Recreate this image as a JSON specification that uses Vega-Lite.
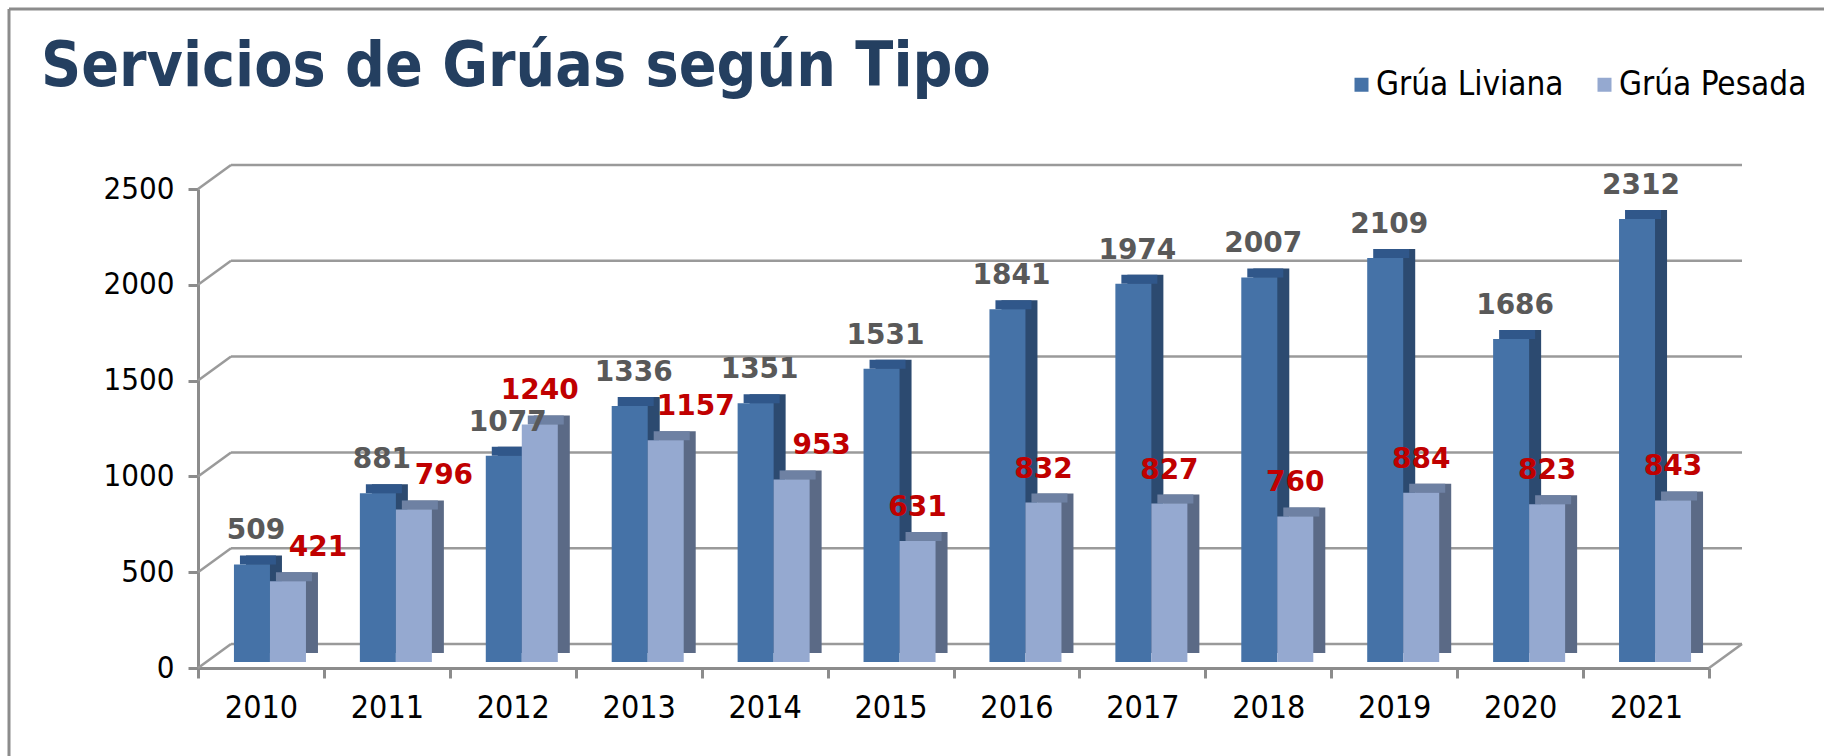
{
  "$schema": "https://vega.github.io/schema/vega-lite/v6.json",
  "width": 1815,
  "height": 747,
  "autosize": {"type": "none"},
  "padding": {"left": 9, "top": 9, "right": 0, "bottom": 0},
  "background": "white",
  "config": {"view": {"stroke": null}},
  "title": {"text": "Servicios de Grúas según Tipo", "anchor": "start", "frame": "group", "orient": "top", "offset": 0, "dx": 32, "dy": 140, "baseline": "alphabetic", "font": "DejaVu Sans Condensed", "fontSize": 62, "fontWeight": "bold", "color": "#243F60"},
  "datasets": {
    "main": [
      {"year": "2010", "tipo": "Grúa Liviana", "value": 509}, {"year": "2010", "tipo": "Grúa Pesada", "value": 421},
      {"year": "2011", "tipo": "Grúa Liviana", "value": 881}, {"year": "2011", "tipo": "Grúa Pesada", "value": 796},
      {"year": "2012", "tipo": "Grúa Liviana", "value": 1077}, {"year": "2012", "tipo": "Grúa Pesada", "value": 1240},
      {"year": "2013", "tipo": "Grúa Liviana", "value": 1336}, {"year": "2013", "tipo": "Grúa Pesada", "value": 1157},
      {"year": "2014", "tipo": "Grúa Liviana", "value": 1351}, {"year": "2014", "tipo": "Grúa Pesada", "value": 953},
      {"year": "2015", "tipo": "Grúa Liviana", "value": 1531}, {"year": "2015", "tipo": "Grúa Pesada", "value": 631},
      {"year": "2016", "tipo": "Grúa Liviana", "value": 1841}, {"year": "2016", "tipo": "Grúa Pesada", "value": 832},
      {"year": "2017", "tipo": "Grúa Liviana", "value": 1974}, {"year": "2017", "tipo": "Grúa Pesada", "value": 827},
      {"year": "2018", "tipo": "Grúa Liviana", "value": 2007}, {"year": "2018", "tipo": "Grúa Pesada", "value": 760},
      {"year": "2019", "tipo": "Grúa Liviana", "value": 2109}, {"year": "2019", "tipo": "Grúa Pesada", "value": 884},
      {"year": "2020", "tipo": "Grúa Liviana", "value": 1686}, {"year": "2020", "tipo": "Grúa Pesada", "value": 823},
      {"year": "2021", "tipo": "Grúa Liviana", "value": 2312}, {"year": "2021", "tipo": "Grúa Pesada", "value": 843}
    ],
    "grid": [{"v": 0}, {"v": 500}, {"v": 1000}, {"v": 1500}, {"v": 2000}, {"v": 2500}]
  },
  "resolve": {"scale": {"x": "independent"}, "axis": {"x": "independent"}},
  "layer": [
    {
      "data": {"name": "grid"},
      "mark": {"type": "rule", "color": "#9a9a9a", "strokeWidth": 2.5, "xOffset": 33, "x2Offset": 33, "yOffset": -24},
      "encoding": {
        "x": {"datum": 0, "type": "quantitative", "scale": {"domain": [0, 1], "range": [189, 1700]}, "axis": null},
        "x2": {"datum": 1},
        "y": {"field": "v", "type": "quantitative", "scale": {"domain": [0, 2500], "range": [659, 180], "nice": false},
          "axis": {"orient": "left", "offset": -189, "values": [0, 500, 1000, 1500, 2000, 2500], "format": "d", "title": null, "grid": false, "domainColor": "#8c8c8c", "domainWidth": 3, "tickColor": "#8c8c8c", "tickWidth": 3, "tickSize": 10, "labelFont": "DejaVu Sans Condensed", "labelFontSize": 31, "labelColor": "#000000", "labelPadding": 14}}
      }
    },
    {
      "data": {"name": "grid"},
      "mark": {"type": "rule", "color": "#9a9a9a", "strokeWidth": 2.5, "x2Offset": 33, "y2Offset": -24},
      "encoding": {
        "x": {"datum": 0, "type": "quantitative", "scale": {"domain": [0, 1], "range": [189, 1700]}, "axis": null},
        "x2": {"datum": 0},
        "y": {"field": "v", "type": "quantitative", "scale": {"domain": [0, 2500], "range": [659, 180], "nice": false}},
        "y2": {"field": "v"}
      }
    },
    {
      "data": {"values": [{}]},
      "mark": {"type": "rule", "color": "#9a9a9a", "strokeWidth": 2.5, "x2Offset": 33, "y2Offset": -24},
      "encoding": {
        "x": {"datum": 1, "type": "quantitative", "scale": {"domain": [0, 1], "range": [189, 1700]}, "axis": null},
        "x2": {"datum": 1},
        "y": {"datum": 0, "type": "quantitative", "scale": {"domain": [0, 2500], "range": [659, 180], "nice": false}},
        "y2": {"datum": 0}
      }
    },
    {
      "data": {"name": "main"},
      "transform": [{"filter": "datum.tipo === 'Grúa Liviana'"}],
      "mark": {"type": "bar", "color": "#2c4a70", "width": {"band": 0.286}, "xOffset": 3, "x2Offset": 3, "yOffset": -15, "y2Offset": -15},
      "encoding": {
        "x": {"field": "year", "type": "nominal", "scale": {"domain": ["2010", "2011", "2012", "2013", "2014", "2015", "2016", "2017", "2018", "2019", "2020", "2021"], "range": [189, 1700], "paddingInner": 0, "paddingOuter": 0}, "axis": null},
        "y": {"field": "value", "type": "quantitative", "scale": {"domain": [0, 2500], "range": [659, 180], "nice": false}}
      }
    },
    {
      "data": {"name": "main"},
      "transform": [{"filter": "datum.tipo === 'Grúa Liviana'"}],
      "mark": {"type": "bar", "color": "#30578a", "width": {"band": 0.286}, "xOffset": -3, "x2Offset": -3, "yOffset": -15, "y2Offset": -6},
      "encoding": {
        "x": {"field": "year", "type": "nominal", "scale": {"domain": ["2010", "2011", "2012", "2013", "2014", "2015", "2016", "2017", "2018", "2019", "2020", "2021"], "range": [189, 1700], "paddingInner": 0, "paddingOuter": 0}, "axis": null},
        "y": {"field": "value", "type": "quantitative", "scale": {"domain": [0, 2500], "range": [659, 180], "nice": false}},
        "y2": {"field": "value"}
      }
    },
    {
      "data": {"name": "main"},
      "transform": [{"filter": "datum.tipo === 'Grúa Liviana'"}],
      "mark": {"type": "bar", "width": {"band": 0.286}, "xOffset": -9, "x2Offset": -9, "yOffset": -6, "y2Offset": -6},
      "encoding": {
        "x": {"field": "year", "type": "nominal", "scale": {"domain": ["2010", "2011", "2012", "2013", "2014", "2015", "2016", "2017", "2018", "2019", "2020", "2021"], "range": [189, 1700], "paddingInner": 0, "paddingOuter": 0},
          "axis": {"orient": "bottom", "offset": -88, "title": null, "labelAngle": 0, "tickBand": "extent", "tickSize": 10, "tickWidth": 3, "tickColor": "#8c8c8c", "domainColor": "#8c8c8c", "domainWidth": 3, "labelFont": "DejaVu Sans Condensed", "labelFontSize": 32, "labelColor": "#000000", "labelPadding": 14}},
        "y": {"field": "value", "type": "quantitative", "scale": {"domain": [0, 2500], "range": [659, 180], "nice": false}},
        "color": {"field": "tipo", "type": "nominal", "scale": {"domain": ["Grúa Liviana", "Grúa Pesada"], "range": ["#4572a7", "#95a9d0"]},
          "legend": {"orient": "none", "legendX": 1336, "legendY": 59, "direction": "horizontal", "title": null, "symbolType": "square", "symbolSize": 196, "symbolStrokeWidth": 0, "symbolOpacity": 1, "labelFont": "DejaVu Sans Condensed", "labelFontSize": 33, "labelColor": "#000000", "labelOffset": -2, "labelLimit": 0, "columnPadding": 24, "padding": 0}}
      }
    },
    {
      "data": {"name": "main"},
      "transform": [{"filter": "datum.tipo === 'Grúa Pesada'"}],
      "mark": {"type": "bar", "color": "#5b6a86", "width": {"band": 0.286}, "xOffset": 39, "x2Offset": 39, "yOffset": -15, "y2Offset": -15},
      "encoding": {
        "x": {"field": "year", "type": "nominal", "scale": {"domain": ["2010", "2011", "2012", "2013", "2014", "2015", "2016", "2017", "2018", "2019", "2020", "2021"], "range": [189, 1700], "paddingInner": 0, "paddingOuter": 0}, "axis": null},
        "y": {"field": "value", "type": "quantitative", "scale": {"domain": [0, 2500], "range": [659, 180], "nice": false}}
      }
    },
    {
      "data": {"name": "main"},
      "transform": [{"filter": "datum.tipo === 'Grúa Pesada'"}],
      "mark": {"type": "bar", "color": "#6e81a3", "width": {"band": 0.286}, "xOffset": 33, "x2Offset": 33, "yOffset": -15, "y2Offset": -6},
      "encoding": {
        "x": {"field": "year", "type": "nominal", "scale": {"domain": ["2010", "2011", "2012", "2013", "2014", "2015", "2016", "2017", "2018", "2019", "2020", "2021"], "range": [189, 1700], "paddingInner": 0, "paddingOuter": 0}, "axis": null},
        "y": {"field": "value", "type": "quantitative", "scale": {"domain": [0, 2500], "range": [659, 180], "nice": false}},
        "y2": {"field": "value"}
      }
    },
    {
      "data": {"name": "main"},
      "transform": [{"filter": "datum.tipo === 'Grúa Pesada'"}],
      "mark": {"type": "bar", "width": {"band": 0.286}, "xOffset": 27, "x2Offset": 27, "yOffset": -6, "y2Offset": -6},
      "encoding": {
        "x": {"field": "year", "type": "nominal", "scale": {"domain": ["2010", "2011", "2012", "2013", "2014", "2015", "2016", "2017", "2018", "2019", "2020", "2021"], "range": [189, 1700], "paddingInner": 0, "paddingOuter": 0}, "axis": null},
        "y": {"field": "value", "type": "quantitative", "scale": {"domain": [0, 2500], "range": [659, 180], "nice": false}},
        "color": {"field": "tipo", "type": "nominal", "scale": {"domain": ["Grúa Liviana", "Grúa Pesada"], "range": ["#4572a7", "#95a9d0"]}}
      }
    },
    {
      "data": {"name": "main"},
      "transform": [{"filter": "datum.tipo === 'Grúa Liviana'"}],
      "mark": {"type": "text", "color": "#595959", "font": "DejaVu Sans", "fontWeight": "bold", "fontSize": 28, "baseline": "middle", "dx": -5, "dy": -39},
      "encoding": {
        "x": {"field": "year", "type": "nominal", "scale": {"domain": ["2010", "2011", "2012", "2013", "2014", "2015", "2016", "2017", "2018", "2019", "2020", "2021"], "range": [189, 1700], "paddingInner": 0, "paddingOuter": 0}, "axis": null},
        "y": {"field": "value", "type": "quantitative", "scale": {"domain": [0, 2500], "range": [659, 180], "nice": false}},
        "text": {"field": "value", "type": "quantitative", "format": "d"}
      }
    },
    {
      "data": {"name": "main"},
      "transform": [{"filter": "datum.tipo === 'Grúa Pesada' && (datum.year > '2014' || datum.year === '2012')"}],
      "mark": {"type": "text", "color": "#c00000", "font": "DejaVu Sans", "fontWeight": "bold", "fontSize": 28, "baseline": "middle", "dx": 27, "dy": -39},
      "encoding": {
        "x": {"field": "year", "type": "nominal", "scale": {"domain": ["2010", "2011", "2012", "2013", "2014", "2015", "2016", "2017", "2018", "2019", "2020", "2021"], "range": [189, 1700], "paddingInner": 0, "paddingOuter": 0}, "axis": null},
        "y": {"field": "value", "type": "quantitative", "scale": {"domain": [0, 2500], "range": [659, 180], "nice": false}},
        "text": {"field": "value", "type": "quantitative", "format": "d"}
      }
    },
    {
      "data": {"name": "main"},
      "transform": [{"filter": "datum.tipo === 'Grúa Pesada' && datum.year <= '2014' && datum.year !== '2012'"}],
      "mark": {"type": "text", "color": "#c00000", "font": "DejaVu Sans", "fontWeight": "bold", "fontSize": 28, "baseline": "middle", "dx": 57, "dy": -39},
      "encoding": {
        "x": {"field": "year", "type": "nominal", "scale": {"domain": ["2010", "2011", "2012", "2013", "2014", "2015", "2016", "2017", "2018", "2019", "2020", "2021"], "range": [189, 1700], "paddingInner": 0, "paddingOuter": 0}, "axis": null},
        "y": {"field": "value", "type": "quantitative", "scale": {"domain": [0, 2500], "range": [659, 180], "nice": false}},
        "text": {"field": "value", "type": "quantitative", "format": "d"}
      }
    },
    {
      "data": {"values": [{}]},
      "mark": {"type": "rule", "color": "#8c8c8c", "strokeWidth": 3},
      "encoding": {"x": {"value": 0}}
    },
    {
      "data": {"values": [{}]},
      "mark": {"type": "rule", "color": "#8c8c8c", "strokeWidth": 3},
      "encoding": {"y": {"value": 0}}
    }
  ]
}
